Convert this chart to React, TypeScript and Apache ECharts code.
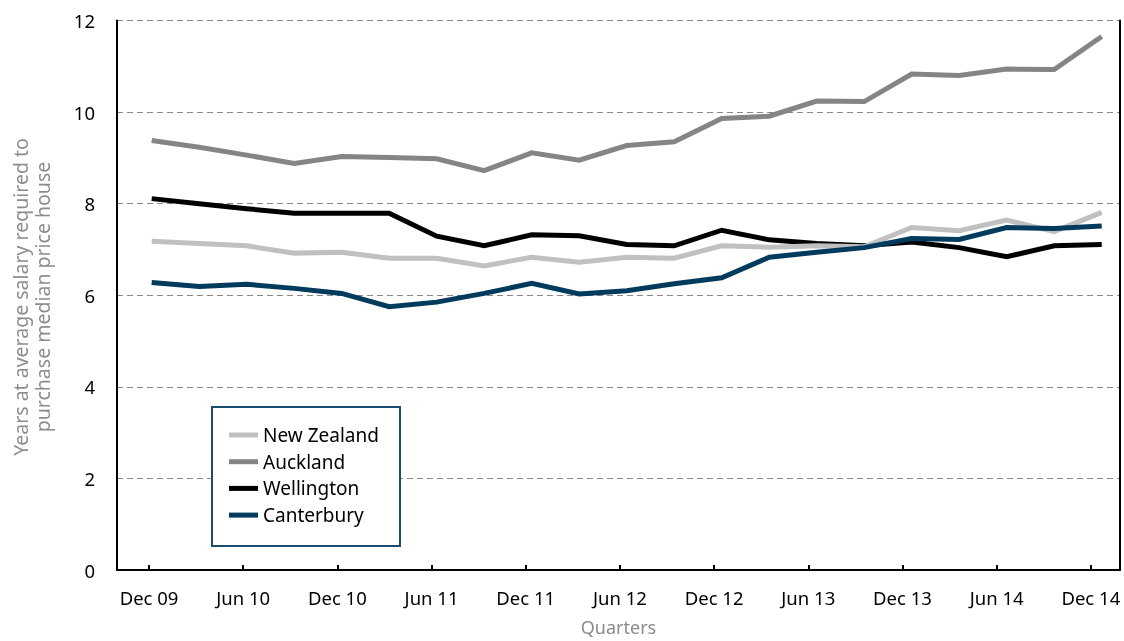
import React, { useEffect, useRef } from "react";
import * as echarts from "echarts";

const quarters = [
  "Dec 09", "Mar 10", "Jun 10", "Sep 10", "Dec 10", "Mar 11", "Jun 11", "Sep 11",
  "Dec 11", "Mar 12", "Jun 12", "Sep 12", "Dec 12", "Mar 13", "Jun 13", "Sep 13",
  "Dec 13", "Mar 14", "Jun 14", "Sep 14", "Dec 14",
];
const labelIndexes = [0, 2, 4, 6, 8, 10, 12, 14, 16, 18, 20];

const newZealand = [7.18, 7.13, 7.08, 6.92, 6.94, 6.81, 6.81, 6.64, 6.83, 6.72, 6.83, 6.81, 7.08, 7.05, 7.08, 7.06, 7.48, 7.41, 7.64, 7.39, 7.81];
const auckland = [9.38, 9.23, 9.06, 8.88, 9.03, 9.01, 8.98, 8.72, 9.11, 8.95, 9.27, 9.35, 9.86, 9.91, 10.24, 10.23, 10.83, 10.8, 10.94, 10.93, 11.65];
const wellington = [8.11, 8.0, 7.89, 7.79, 7.79, 7.79, 7.29, 7.08, 7.32, 7.3, 7.11, 7.08, 7.42, 7.21, 7.13, 7.08, 7.16, 7.04, 6.84, 7.08, 7.11];
const canterbury = [6.28, 6.19, 6.24, 6.15, 6.04, 5.75, 5.85, 6.04, 6.26, 6.03, 6.1, 6.25, 6.38, 6.83, 6.94, 7.04, 7.24, 7.22, 7.48, 7.46, 7.51];

const yTicks = [0, 2, 4, 6, 8, 10, 12];

const FONT = "Noto Sans";

export default function App() {
  const ref = useRef<HTMLDivElement>(null);
  useEffect(() => {
    if (!ref.current) return;
    const chart = echarts.init(ref.current, null, { renderer: "svg" });
    const toPairs = (arr: number[]) => arr.map((v, i) => [i, v]);
    const mk = (name: string, data: number[], color: string) => ({
      name,
      type: "line",
      xAxisIndex: 1,
      yAxisIndex: 0,
      data: toPairs(data),
      symbol: "none",
      lineStyle: { width: 5, color, join: "miter" },
      itemStyle: { color },
    });
    chart.setOption({
      animation: false,
      textStyle: { fontFamily: FONT },
      grid: { left: 117, right: 4, top: 20.5, bottom: 71, containLabel: false, outerBoundsMode: "none" },
      xAxis: [
        {
          type: "value",
          min: -0.68,
          max: 20.62,
          axisLine: { onZero: false, lineStyle: { color: "#000", width: 2 } },
          axisTick: { show: true, inside: true, length: 5, customValues: labelIndexes, lineStyle: { color: "#000", width: 2 } },
          axisLabel: {
            customValues: labelIndexes,
            formatter: (v: number) => quarters[Math.round(v)] ?? "",
            color: "#000",
            fontSize: 18.5,
            fontFamily: FONT,
            margin: 18,
          },
          splitLine: { show: false },
          name: "Quarters",
          nameLocation: "middle",
          nameGap: 48,
          nameTextStyle: { color: "#8c8c8c", fontSize: 18, fontFamily: FONT },
        },
        {
          type: "value",
          min: -0.73,
          max: 20.385,
          show: false,
        },
      ],
      yAxis: [
        {
          type: "value",
          min: 0,
          max: 12,
          interval: 2,
          axisLine: { show: true, onZero: false, lineStyle: { color: "#000", width: 2 } },
          axisTick: { show: false },
          axisLabel: { color: "#000", fontSize: 18.5, fontFamily: FONT, margin: 22, formatter: (v: number) => (yTicks.includes(v) ? String(v) : "") },
          splitLine: { show: true, lineStyle: { color: "#888", type: [6, 4], width: 1 } },
        },
        {
          type: "value",
          min: 0,
          max: 12,
          position: "right",
          axisLine: { show: true, onZero: false, lineStyle: { color: "#000", width: 2 } },
          axisTick: { show: false },
          axisLabel: { show: false },
          splitLine: { show: false },
        },
      ],
      legend: {
        data: ["New Zealand", "Auckland", "Wellington", "Canterbury"],
        orient: "vertical",
        left: 229,
        top: 425,
        padding: 0,
        itemGap: 6.7,
        itemWidth: 29,
        itemHeight: 5,
        icon: "rect",
        z: 10,
        textStyle: { color: "#000", fontSize: 19, fontFamily: FONT, lineHeight: 20 },
      },
      graphic: [
        {
          type: "rect",
          z: 5,
          shape: { x: 212, y: 407, width: 188, height: 139 },
          style: { fill: "#fff", stroke: "#1d4d6e", lineWidth: 2 },
        },
        {
          type: "text",
          x: 31,
          y: 297,
          rotation: Math.PI / 2,
          z: 5,
          style: {
            text: "Years at average salary required to\npurchase median price house",
            fill: "#8c8c8c",
            fontSize: 19.5,
            fontFamily: FONT,
            align: "center",
            verticalAlign: "middle",
            lineHeight: 22,
          },
        },
      ],
      series: [
        mk("Auckland", auckland, "#858585"),
        mk("Wellington", wellington, "#000000"),
        mk("New Zealand", newZealand, "#c0c0c0"),
        mk("Canterbury", canterbury, "#003a5d"),
      ],
    });
    return () => chart.dispose();
  }, []);
  return <div ref={ref} style={{ position: "fixed", left: 0, top: 0, width: 1124, height: 641 }} />;
}
